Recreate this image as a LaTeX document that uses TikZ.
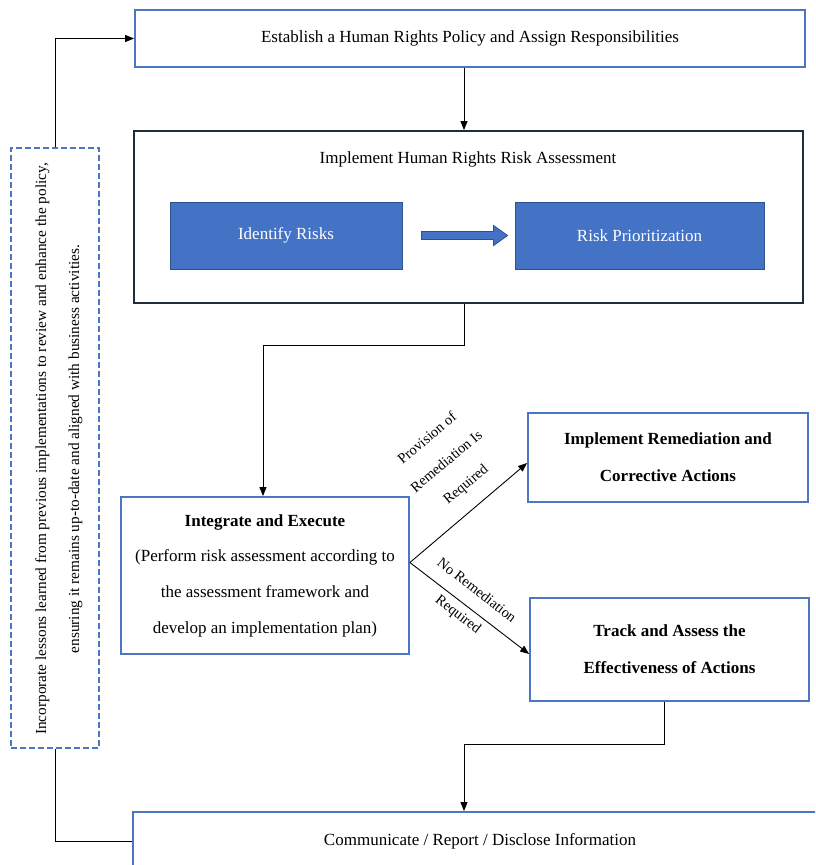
\documentclass[tikz,border=0pt]{standalone}
\usepackage{fontspec}
\setmainfont{Liberation Serif}
\usetikzlibrary{arrows.meta,calc}
\definecolor{bblue}{RGB}{74,118,194}
\definecolor{fblue}{RGB}{68,114,196}
\definecolor{dblue}{RGB}{47,82,143}
\definecolor{dark}{RGB}{32,44,60}
\tikzset{
  box/.style={draw=bblue,line width=1.8pt,inner sep=0pt,align=center,font=\fontsize{17}{37}\selectfont},
  inbox/.style={draw=dblue,fill=fblue,line width=0.8pt,inner sep=0pt,text=white,font=\fontsize{17}{20}\selectfont},
  conn/.style={line width=0.9pt,draw=black},
  arr/.style={conn,-{Triangle[length=9pt,width=7pt]}},
  lbl/.style={font=\fontsize{14.5}{30}\selectfont,align=center,inner sep=0pt}
}
\begin{document}
\begin{tikzpicture}[x=1pt,y=-1pt]
\useasboundingbox (0,0) rectangle (815,865);
\clip (0,0) rectangle (815,865);
\fill[white] (0,0) rectangle (815,865);
% boxes
\node[box,minimum width=670pt,minimum height=57pt] (top) at (470,38.5) {Establish a Human Rights Policy and Assign Responsibilities};
\node[box,draw=dark,minimum width=669pt,minimum height=172pt] (ra) at (468.5,217) {};
\node[font=\fontsize{17}{20}\selectfont,inner sep=0pt] (ratitle) at (468,159) {Implement Human Rights Risk Assessment};
\node[inbox,minimum width=232pt,minimum height=67pt] (idr) at (286,235.5) {Identify Risks};
\node[inbox,minimum width=249pt,minimum height=67pt] (rp) at (639.5,235.5) {Risk Prioritization};
\node[box,minimum width=288pt,minimum height=157pt,font=\fontsize{17}{35.7}\selectfont] (integ) at (265,575.5) {\textbf{Integrate and Execute}\\(Perform risk assessment according to\\the assessment framework and\\develop an implementation plan)};
\node[box,minimum width=280pt,minimum height=89pt] (rem) at (668,457.5) {\textbf{Implement Remediation and}\\\textbf{Corrective Actions}};
\node[box,minimum width=279pt,minimum height=103pt] (track) at (669.5,649.5) {\textbf{Track and Assess the}\\\textbf{Effectiveness of Actions}};
\node[box,minimum width=707pt,minimum height=88pt] (disc) at (486.5,856) {};
\node[font=\fontsize{17}{20}\selectfont,inner sep=0pt] (disctext) at (480,841) {Communicate / Report / Disclose Information};
\node[draw=bblue,line width=1.5pt,dash pattern=on 6pt off 3pt,minimum width=88pt,minimum height=600pt,inner sep=0pt] (lessons) at (55,448) {};
\node[rotate=90,align=center,inner sep=0pt,font=\fontsize{15.3}{33}\selectfont] (lessonstext) at (59,449) {Incorporate lessons learned from previous implementations to review and enhance the policy,\\ensuring it remains up-to-date and aligned with business activities.};
% block arrow
\coordinate (ba1) at ($(idr.east)+(19,0)$);
\coordinate (ba2) at ($(rp.west)+(-7,0)$);
\filldraw[fill=fblue,draw=dblue,line width=0.8pt] ($(ba1)+(0,-4)$) -- ($(ba2)+(-14,-4)$) -- ($(ba2)+(-14,-10)$) -- (ba2) -- ($(ba2)+(-14,10)$) -- ($(ba2)+(-14,4)$) -- ($(ba1)+(0,4)$) -- cycle;
% connectors
\draw[arr] (top.south -| 464,0) -- (ra.north -| 464,0);
\draw[arr] (ra.south -| 464,0) -- ++(0,42) -| (integ.north -| 263,0);
\coordinate (fork) at ($(integ.east)+(0,-13)$);
\draw[arr] (fork) -- ($(rem.west)+(0,5.5)$);
\draw[arr] (fork) -- ($(track.west)+(0,4.5)$);
\draw[arr] (track.south -| 664,0) -- ++(0,43) -| (disc.north -| 464,0);
\draw[arr] (lessons.north) |- (top.west);
\draw[conn] (lessons.south) |- (disctext -| disc.west);
% branch labels
\node[lbl,rotate=40] (yeslbl) at (447,462) {Provision of\\Remediation Is\\Required};
\node[lbl,rotate=-38] (nolbl) at (467,603) {No Remediation\\Required};
\end{tikzpicture}
\end{document}
